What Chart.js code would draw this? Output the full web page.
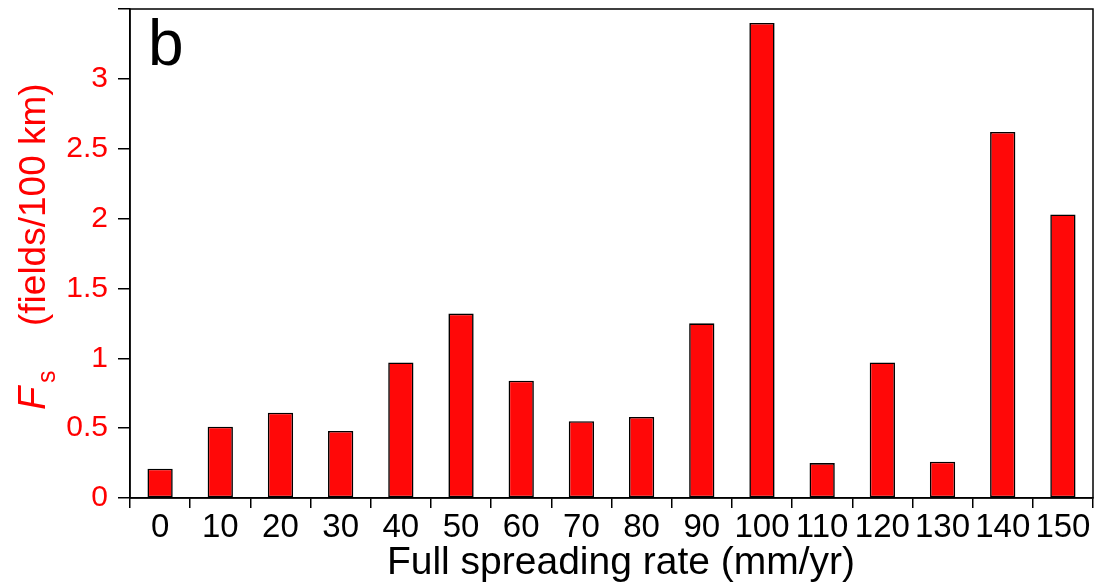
<!DOCTYPE html>
<html>
<head>
<meta charset="utf-8">
<script src="https://cdn.jsdelivr.net/npm/chart.js@4"></script>
<style>
    html, body { margin: 0; padding: 0; background: #fff; }
    canvas { display: block; }
</style>
</head>
<body>
<canvas id="rateChart" width="1100" height="586"></canvas>
<script>
// 扩张速率分类 (mm/yr)
var rateLabels = ['0', '10', '20', '30', '40', '50', '60', '70', '80', '90', '100', '110', '120', '130', '140', '150'];

// Fs (fields/100 km)
var fsValues = [0.21, 0.51, 0.61, 0.48, 0.97, 1.32, 0.84, 0.55, 0.58, 1.25, 3.40, 0.25, 0.97, 0.26, 2.62, 2.03];

// y 轴刻度
var yTicks = [0, 0.5, 1, 1.5, 2, 2.5, 3, 3.5];

var FONT = '"Liberation Sans", Arial, sans-serif';

/**
 * 画外框、面板字母和两个轴标题
 */
var framePlugin = {
    id: 'frame',
    afterDraw: function(chart) {
        var ctx = chart.ctx;
        var area = chart.chartArea;

        ctx.save();
        ctx.strokeStyle = '#000';
        ctx.lineWidth = 1.5;
        ctx.strokeRect(area.left, area.top, area.right - area.left, area.bottom - area.top);

        // 面板字母
        ctx.fillStyle = '#000';
        ctx.font = '64px ' + FONT;
        ctx.textAlign = 'left';
        ctx.textBaseline = 'alphabetic';
        ctx.fillText('b', 148, 65);

        // x 轴标题
        ctx.font = '39px ' + FONT;
        ctx.textAlign = 'center';
        ctx.fillText('Full spreading rate (mm/yr)', 621, 574);

        // y 轴标题：F 斜体带下标 s
        ctx.textAlign = 'left';
        ctx.translate(45, 410);
        ctx.rotate(-Math.PI / 2);
        ctx.fillStyle = '#ff0000';
        ctx.font = 'italic 38px ' + FONT;
        ctx.fillText('F', 0, 0);
        ctx.font = '25px ' + FONT;
        ctx.fillText('s', 27, 10);
        ctx.font = '37px ' + FONT;
        ctx.fillText('(fields/100 km)', 84, 0);
        ctx.restore();
    }
};

new Chart(document.getElementById('rateChart'), {
    type: 'bar',
    data: {
        labels: rateLabels,
        datasets: [{
            data: fsValues,
            backgroundColor: '#ff0808',
            borderColor: '#000',
            borderWidth: 1.6,
            borderSkipped: false,
            barPercentage: 0.42,
            categoryPercentage: 1
        }]
    },
    options: {
        responsive: false,
        animation: false,
        layout: {
            autoPadding: false,
            padding: { left: 0, right: 7, top: 9, bottom: 0 }
        },
        plugins: {
            legend: { display: false },
            tooltip: { enabled: false }
        },
        scales: {
            x: {
                offset: true,
                afterFit: function(scale) {
                    scale.height = 88;
                    scale.paddingLeft = 0;
                    scale.paddingRight = 0;
                },
                grid: {
                    offset: true,
                    drawOnChartArea: false,
                    tickLength: 10,
                    color: '#000',
                    lineWidth: 1.5
                },
                border: { display: true, color: '#000', width: 1.5 },
                ticks: {
                    color: '#000',
                    padding: 0,
                    maxRotation: 0,
                    autoSkip: false,
                    font: { family: FONT, size: 33 }
                }
            },
            y: {
                min: 0,
                max: 3.5,
                afterFit: function(scale) {
                    scale.width = 130;
                    scale.paddingTop = 0;
                    scale.paddingBottom = 0;
                },
                afterBuildTicks: function(scale) {
                    scale.ticks = yTicks.map(function(v) { return { value: v }; });
                },
                grid: {
                    drawOnChartArea: false,
                    tickLength: 12,
                    color: '#000',
                    lineWidth: 1.5
                },
                border: { display: true, color: '#000', width: 1.5 },
                ticks: {
                    color: '#ff0000',
                    padding: 10,
                    font: { family: FONT, size: 30 },
                    callback: function(value) {
                        return value === 3.5 ? '' : String(value);
                    }
                }
            }
        }
    },
    plugins: [framePlugin]
});
</script>
</body>
</html>
